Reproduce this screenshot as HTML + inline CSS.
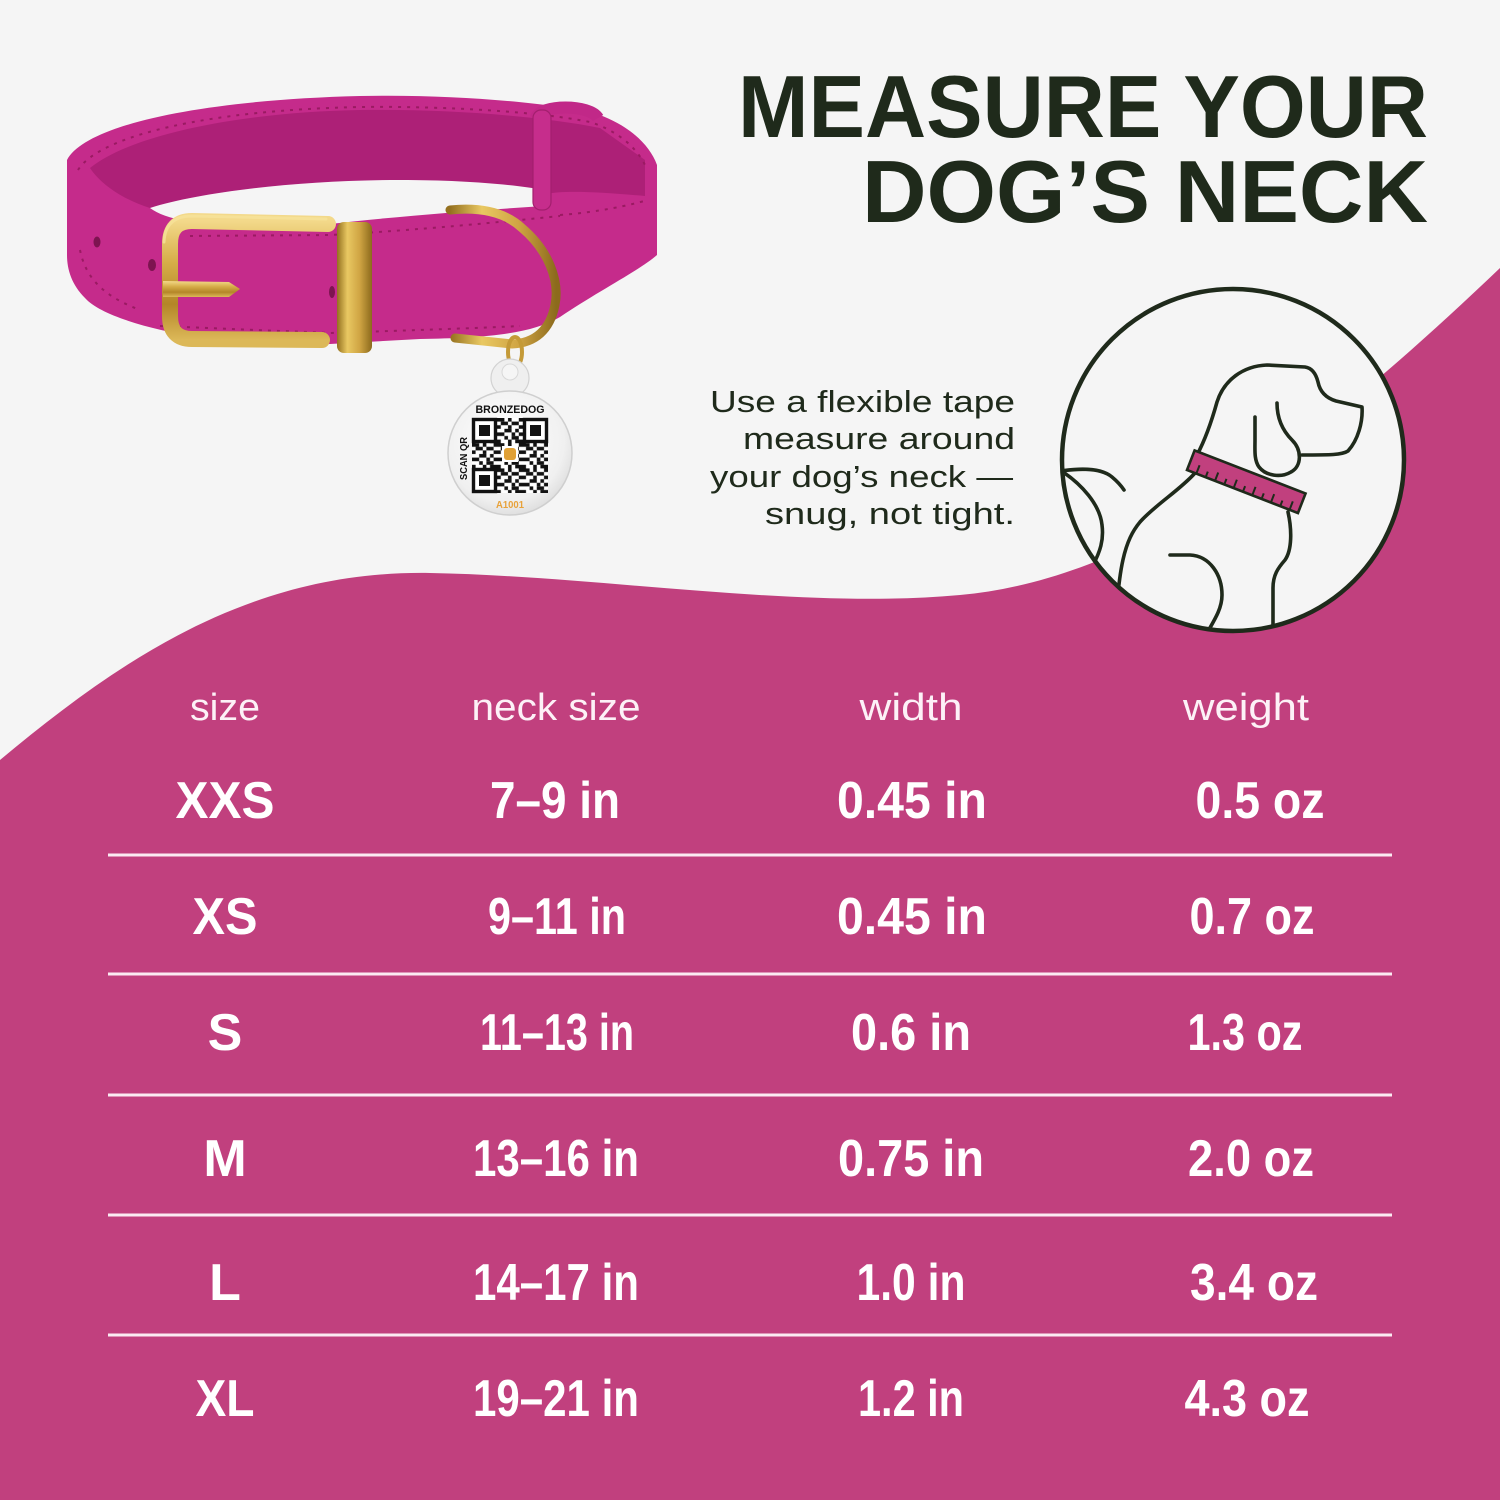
<!DOCTYPE html>
<html>
<head>
<meta charset="utf-8">
<style>
  html,body{margin:0;padding:0;background:#f5f5f5;}
  body{width:1500px;height:1500px;overflow:hidden;}
  svg{display:block;}
</style>
</head>
<body>
<svg width="1500" height="1500" viewBox="0 0 1500 1500" xmlns="http://www.w3.org/2000/svg">
  <defs>
    <linearGradient id="goldV" x1="0" y1="0" x2="0" y2="1">
      <stop offset="0" stop-color="#f3d98a"/>
      <stop offset="0.35" stop-color="#d6ad48"/>
      <stop offset="0.7" stop-color="#b48628"/>
      <stop offset="1" stop-color="#dcb858"/>
    </linearGradient>
    <linearGradient id="goldH" x1="0" y1="0" x2="1" y2="0">
      <stop offset="0" stop-color="#94701f"/>
      <stop offset="0.3" stop-color="#e9c862"/>
      <stop offset="0.65" stop-color="#cfa443"/>
      <stop offset="1" stop-color="#8c6a1c"/>
    </linearGradient>
    <radialGradient id="tagG" cx="0.45" cy="0.4" r="0.65">
      <stop offset="0" stop-color="#ffffff"/>
      <stop offset="0.75" stop-color="#f0f0f0"/>
      <stop offset="1" stop-color="#d9d9d9"/>
    </radialGradient>
    <pattern id="qrp" x="472" y="418" width="25.2" height="25.2" patternUnits="userSpaceOnUse">
      <g fill="#111">
        <rect x="0" y="0" width="7.2" height="3.6"/>
        <rect x="10.8" y="0" width="3.6" height="3.6"/>
        <rect x="21.6" y="0" width="3.6" height="3.6"/>
        <rect x="3.6" y="3.6" width="7.2" height="3.6"/>
        <rect x="14.4" y="3.6" width="7.2" height="3.6"/>
        <rect x="0" y="7.2" width="3.6" height="3.6"/>
        <rect x="10.8" y="7.2" width="3.6" height="3.6"/>
        <rect x="21.6" y="7.2" width="3.6" height="3.6"/>
        <rect x="7.2" y="10.8" width="7.2" height="3.6"/>
        <rect x="18" y="10.8" width="3.6" height="3.6"/>
        <rect x="0" y="14.4" width="7.2" height="3.6"/>
        <rect x="14.4" y="14.4" width="3.6" height="3.6"/>
        <rect x="21.6" y="14.4" width="3.6" height="3.6"/>
        <rect x="7.2" y="18" width="3.6" height="3.6"/>
        <rect x="14.4" y="18" width="7.2" height="3.6"/>
        <rect x="0" y="21.6" width="3.6" height="3.6"/>
        <rect x="10.8" y="21.6" width="3.6" height="3.6"/>
        <rect x="18" y="21.6" width="7.2" height="3.6"/>
      </g>
    </pattern>
    <clipPath id="circClip">
      <circle cx="1233" cy="460" r="169"/>
    </clipPath>
  </defs>

  <!-- background -->
  <rect x="0" y="0" width="1500" height="1500" fill="#f5f5f5"/>

  <!-- pink wave -->
  <path d="M0,760 C120,660 250,570 430,573 C600,576 800,610 960,595 C1150,578 1330,430 1500,268 L1500,1500 L0,1500 Z" fill="#c1407e"/>

  <!-- title -->
  <text x="1428" y="137" text-anchor="end" font-family="Liberation Sans, Arial, sans-serif" font-weight="700" font-size="88" fill="#1f2a1b" textLength="690" lengthAdjust="spacingAndGlyphs">MEASURE YOUR</text>
  <text x="1428" y="222" text-anchor="end" font-family="Liberation Sans, Arial, sans-serif" font-weight="700" font-size="88" fill="#1f2a1b" textLength="566" lengthAdjust="spacingAndGlyphs">DOG’S  NECK</text>

  <!-- instruction text -->
  <g font-family="Liberation Sans, Arial, sans-serif" font-size="31" fill="#1f2a1b" text-anchor="end">
    <text x="1015" y="412" textLength="305" lengthAdjust="spacingAndGlyphs">Use a flexible tape</text>
    <text x="1015" y="449" textLength="272" lengthAdjust="spacingAndGlyphs">measure around</text>
    <text x="1013" y="487" textLength="303" lengthAdjust="spacingAndGlyphs">your dog’s neck —</text>
    <text x="1015" y="524" textLength="250" lengthAdjust="spacingAndGlyphs">snug, not tight.</text>
  </g>

  <!-- dog circle -->
  <circle cx="1233" cy="460" r="171" fill="#f5f5f5"/>
  <g clip-path="url(#circClip)" fill="none" stroke="#1f2a1b" stroke-width="3.6" stroke-linecap="round" stroke-linejoin="round">
    <!-- head -->
    <path d="M1197,455 C1205,440 1212,420 1217,402 C1224,380 1243,366 1267,365 L1305,367 C1312,368 1316,374 1318,382 C1320,392 1326,398 1336,401 L1362,407 C1363,422 1358,440 1348,451 C1342,455 1330,455 1302,455"/>
    <!-- ear -->
    <path d="M1277,403 C1277,420 1284,432 1292,440 C1302,450 1302,466 1291,472 C1281,478 1266,476 1259,467 C1254,460 1255,450 1255,440 L1255,417"/>
    <!-- chest / front leg -->
    <path d="M1288,512 C1292,530 1292,550 1285,560 C1278,568 1273,575 1273,588 L1273,640"/>
    <!-- back -->
    <path d="M1195,473 C1180,490 1155,505 1140,522 C1125,540 1118,565 1115,640"/>
    <!-- haunch -->
    <path d="M1170,555 L1190,555 C1210,556 1222,575 1222,595 C1222,610 1213,622 1203,640"/>
    <!-- tail -->
    <path d="M1050,473 C1075,468 1100,467 1112,477 C1118,482 1122,487 1124,490"/>
    <path d="M1060,470 C1082,484 1100,505 1102,525 C1104,540 1100,552 1093,565"/>
  </g>
  <!-- tape collar -->
  <g transform="translate(1187,470) rotate(21.2)">
    <rect x="0" y="-21" width="119" height="21" fill="#c1407e" stroke="#1f2a1b" stroke-width="2.6"/>
    <g stroke="#1f2a1b" stroke-width="2">
      <line x1="10" y1="0" x2="10" y2="-9"/>
      <line x1="20" y1="0" x2="20" y2="-6"/>
      <line x1="30" y1="0" x2="30" y2="-9"/>
      <line x1="40" y1="0" x2="40" y2="-6"/>
      <line x1="50" y1="0" x2="50" y2="-9"/>
      <line x1="60" y1="0" x2="60" y2="-6"/>
      <line x1="70" y1="0" x2="70" y2="-9"/>
      <line x1="80" y1="0" x2="80" y2="-6"/>
      <line x1="90" y1="0" x2="90" y2="-9"/>
      <line x1="100" y1="0" x2="100" y2="-6"/>
      <line x1="110" y1="0" x2="110" y2="-9"/>
    </g>
  </g>
  <circle cx="1233" cy="460" r="171" fill="none" stroke="#1f2a1b" stroke-width="4.5"/>

  <!-- ===== collar ===== -->
  <!-- silhouette -->
  <path d="M67,160 C85,125 200,100 360,96 C450,94 540,102 590,112 C620,120 648,140 657,165 L657,255 C640,270 600,290 560,317 C530,335 480,338 420,339 L330,344 L200,337 C150,330 100,315 85,298 C72,285 67,270 67,255 Z" fill="#c52b8b"/>
  <!-- inner darker surface -->
  <path d="M90,168 C130,135 240,112 360,110 C450,109 540,116 600,128 L645,160 L645,196 C600,192 565,190 545,194 C500,184 450,180 400,180 C300,180 200,192 150,208 C125,200 102,186 90,168 Z" fill="#ad2077"/>
  <!-- white hole -->
  <path d="M150,208 C200,192 300,180 400,180 C460,180 510,184 545,190 L545,206 C480,210 400,216 330,224 L250,225 L185,221 C170,218 158,214 150,208 Z" fill="#f5f5f5"/>
  <!-- stitching -->
  <g fill="none" stroke="#9a1a62" stroke-width="2" stroke-dasharray="3 6">
    <path d="M78,170 C100,135 210,110 360,107 C450,106 540,112 590,122 C615,130 635,145 645,165"/>
    <path d="M190,236 L330,235 C420,230 500,222 560,216"/>
    <path d="M160,326 L330,333 C420,330 480,328 520,326"/>
    <path d="M80,250 C85,275 100,295 140,310"/>
    <path d="M560,215 C600,212 630,205 648,200"/>
  </g>
  <!-- holes -->
  <ellipse cx="97" cy="242" rx="3.5" ry="5.5" fill="#7d1450"/>
  <ellipse cx="152" cy="265" rx="4" ry="6" fill="#7d1450"/>
  <ellipse cx="332" cy="292" rx="3" ry="6" fill="#7d1450"/>
  <!-- keeper loop top right -->
  <path d="M536,118 C540,104 590,104 598,118" fill="none" stroke="#c12888" stroke-width="12"/>
  <rect x="533" y="110" width="18" height="100" rx="8" fill="#c62d8c" stroke="#a31f6e" stroke-width="1.2"/>

  <!-- buckle -->
  <path d="M328,224 L192,221 Q170,221 170,244 L170,316 Q170,339 192,339 L322,340" fill="none" stroke="url(#goldV)" stroke-width="16" stroke-linecap="round"/>
  <path d="M326,219 L192,216 Q165,216 164,242" fill="none" stroke="#f6e29a" stroke-width="3" stroke-linecap="round" opacity="0.8"/>
  <path d="M163,281 L229,282 L240,289 L229,297 L163,297 Z" fill="url(#goldV)"/>
  <rect x="337" y="222" width="35" height="131" rx="7" fill="url(#goldH)"/>
  <!-- D ring -->
  <path d="M450,210 C480,207 505,212 522,228 C548,250 560,280 555,305 C550,330 535,343 512,344 L455,338" fill="none" stroke="url(#goldH)" stroke-width="9" stroke-linecap="round"/>
  <!-- small ring -->
  <ellipse cx="515" cy="352" rx="7" ry="15" fill="none" stroke="#c49a38" stroke-width="4"/>

  <!-- tag -->
  <circle cx="510" cy="378" r="19" fill="#efefef" stroke="#d2d2d2" stroke-width="1.2"/>
  <circle cx="510" cy="372" r="8" fill="#f5f5f5" stroke="#d8d8d8" stroke-width="1"/>
  <circle cx="510" cy="453" r="62" fill="url(#tagG)" stroke="#cfcfcf" stroke-width="1.5"/>
  <text x="510" y="413" text-anchor="middle" font-family="Liberation Sans, Arial, sans-serif" font-weight="700" font-size="11" fill="#111" textLength="69" lengthAdjust="spacingAndGlyphs">BRONZEDOG</text>
  <rect x="472" y="418" width="76" height="75" fill="#fff"/>
  <rect x="472" y="418" width="76" height="75" fill="url(#qrp)"/>
  <!-- finder patterns -->
  <g>
    <rect x="472" y="418" width="25" height="25" fill="#fff"/>
    <rect x="473.5" y="419.5" width="22" height="22" fill="none" stroke="#111" stroke-width="3.4"/>
    <rect x="479" y="425" width="11" height="11" fill="#111"/>
    <rect x="523" y="418" width="25" height="25" fill="#fff"/>
    <rect x="524.5" y="419.5" width="22" height="22" fill="none" stroke="#111" stroke-width="3.4"/>
    <rect x="530" y="425" width="11" height="11" fill="#111"/>
    <rect x="472" y="468" width="25" height="25" fill="#fff"/>
    <rect x="473.5" y="469.5" width="22" height="22" fill="none" stroke="#111" stroke-width="3.4"/>
    <rect x="479" y="475" width="11" height="11" fill="#111"/>
    <rect x="502" y="446" width="16" height="16" fill="#fff"/>
    <rect x="504" y="448" width="12" height="12" rx="3" fill="#e0a035"/>
  </g>
  <text transform="translate(467,480) rotate(-90)" font-family="Liberation Sans, Arial, sans-serif" font-weight="700" font-size="10" fill="#111" textLength="43" lengthAdjust="spacingAndGlyphs">SCAN QR</text>
  <text x="510" y="508" text-anchor="middle" font-family="Liberation Sans, Arial, sans-serif" font-weight="700" font-size="10" fill="#e8a23a" textLength="28" lengthAdjust="spacingAndGlyphs">A1001</text>

  <!-- ===== table ===== -->
  <g font-family="Liberation Sans, Arial, sans-serif" font-size="38" fill="#fdf1f7" text-anchor="middle">
    <text x="225" y="720" textLength="70" lengthAdjust="spacingAndGlyphs">size</text>
    <text x="556" y="720" textLength="169" lengthAdjust="spacingAndGlyphs">neck size</text>
    <text x="911" y="720" textLength="103" lengthAdjust="spacingAndGlyphs">width</text>
    <text x="1246" y="720" textLength="126" lengthAdjust="spacingAndGlyphs">weight</text>
  </g>

  <g stroke="#fbeaf2" stroke-width="3">
    <line x1="108" y1="855" x2="1392" y2="855"/>
    <line x1="108" y1="974" x2="1392" y2="974"/>
    <line x1="108" y1="1095" x2="1392" y2="1095"/>
    <line x1="108" y1="1215" x2="1392" y2="1215"/>
    <line x1="108" y1="1335" x2="1392" y2="1335"/>
  </g>

  <g font-family="Liberation Sans, Arial, sans-serif" font-weight="700" font-size="52" fill="#ffffff" text-anchor="middle">
    <!-- row XXS -->
    <text x="225" y="818" textLength="99" lengthAdjust="spacingAndGlyphs">XXS</text>
    <text x="555" y="818" textLength="130" lengthAdjust="spacingAndGlyphs">7–9 in</text>
    <text x="912" y="818" textLength="150" lengthAdjust="spacingAndGlyphs">0.45 in</text>
    <text x="1260" y="818" textLength="129" lengthAdjust="spacingAndGlyphs">0.5 oz</text>
    <!-- row XS -->
    <text x="225" y="934" textLength="65" lengthAdjust="spacingAndGlyphs">XS</text>
    <text x="557" y="934" textLength="138" lengthAdjust="spacingAndGlyphs">9–11 in</text>
    <text x="912" y="934" textLength="150" lengthAdjust="spacingAndGlyphs">0.45 in</text>
    <text x="1252" y="934" textLength="125" lengthAdjust="spacingAndGlyphs">0.7 oz</text>
    <!-- row S -->
    <text x="225" y="1050">S</text>
    <text x="557" y="1050" textLength="154" lengthAdjust="spacingAndGlyphs">11–13 in</text>
    <text x="911" y="1050" textLength="120" lengthAdjust="spacingAndGlyphs">0.6 in</text>
    <text x="1245" y="1050" textLength="115" lengthAdjust="spacingAndGlyphs">1.3 oz</text>
    <!-- row M -->
    <text x="225" y="1176">M</text>
    <text x="556" y="1176" textLength="166" lengthAdjust="spacingAndGlyphs">13–16 in</text>
    <text x="911" y="1176" textLength="146" lengthAdjust="spacingAndGlyphs">0.75 in</text>
    <text x="1251" y="1176" textLength="126" lengthAdjust="spacingAndGlyphs">2.0 oz</text>
    <!-- row L -->
    <text x="225" y="1300">L</text>
    <text x="556" y="1300" textLength="166" lengthAdjust="spacingAndGlyphs">14–17 in</text>
    <text x="911" y="1300" textLength="109" lengthAdjust="spacingAndGlyphs">1.0 in</text>
    <text x="1254" y="1300" textLength="128" lengthAdjust="spacingAndGlyphs">3.4 oz</text>
    <!-- row XL -->
    <text x="225" y="1416" textLength="59" lengthAdjust="spacingAndGlyphs">XL</text>
    <text x="556" y="1416" textLength="166" lengthAdjust="spacingAndGlyphs">19–21 in</text>
    <text x="911" y="1416" textLength="106" lengthAdjust="spacingAndGlyphs">1.2 in</text>
    <text x="1247" y="1416" textLength="125" lengthAdjust="spacingAndGlyphs">4.3 oz</text>
  </g>
</svg>
</body>
</html>
